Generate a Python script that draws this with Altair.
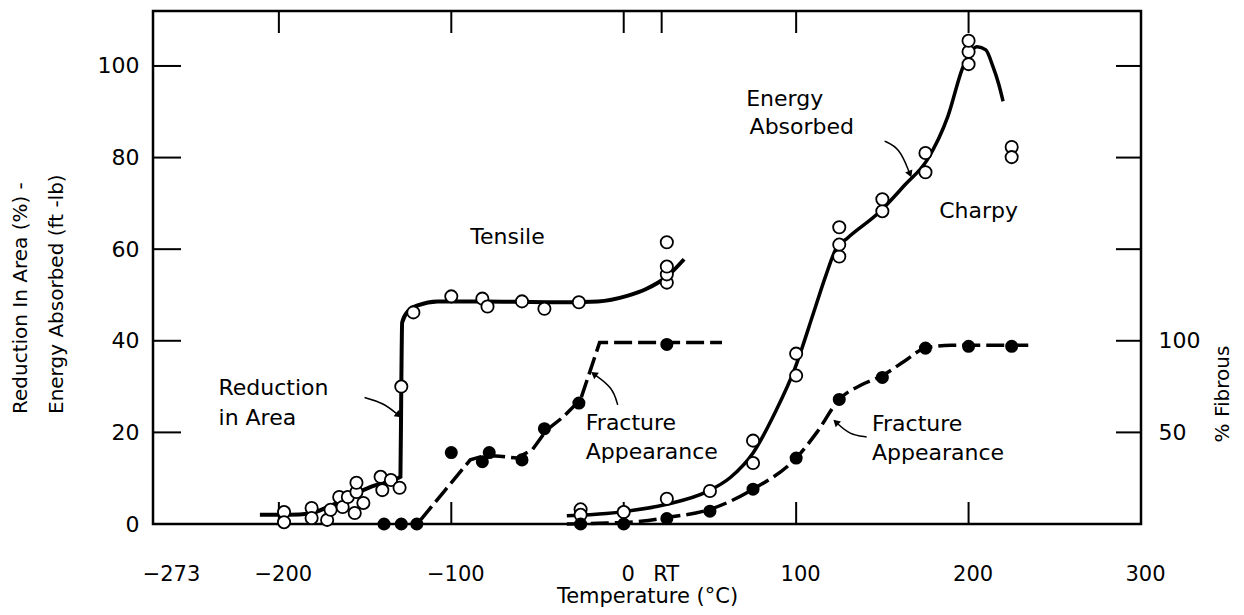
import altair as alt
import pandas as pd

FONT = "DejaVu Sans"

# ---------------- data ----------------
# Tensile test: reduction in area (%) -- open circles
ra_temp = [-197, -197, -181, -181, -172, -170, -165, -163, -160, -156, -155, -155, -151,
           -141, -140, -135, -130, -129, -122, -100, -82, -79, -59, -46, -26, 25, 25, 25, 25]
ra_val = [2.6, 0.4, 3.5, 1.3, 0.9, 3.1, 5.9, 3.7, 5.9, 2.4, 7.0, 9.0, 4.6,
          10.3, 7.4, 9.6, 7.9, 30.0, 46.2, 49.7, 49.2, 47.5, 48.6, 47.0, 48.4, 52.7, 54.5, 56.2, 61.5]
# Tensile reduction-in-area curve
ra_curve_t = [-211, -194, -182, -170, -158, -146, -135, -129.5, -129, -128.5,
              -125, -119, -108, -80, -40, -15, 2, 13, 25, 35]
ra_curve_v = [2.0, 2.0, 2.3, 4.0, 6.2, 8.2, 9.6, 10.3, 30, 44,
              46.5, 47.8, 48.6, 48.6, 48.4, 48.6, 49.8, 51.3, 54.0, 57.8]

# Tensile fracture appearance (% fibrous) -- filled circles
tf_temp = [-139, -129, -120, -100, -82, -78, -59, -46, -26, 25]
tf_fib = [0, 0, 0, 39, 34, 39, 35, 52, 66, 98]
tf_curve_t = [-118, -104, -89, -80, -72, -62, -53, -45, -35, -25, -14, 25, 57]
tf_curve_f = [2, 18, 35, 37.5, 37, 36, 40.5, 51, 58.5, 68, 99, 99, 99]

# Charpy energy absorbed (ft-lb) -- open circles
ce_temp = [-25, -25, 0, 25, 50, 75, 75, 100, 100, 125, 125, 125, 150, 150,
           175, 175, 200, 200, 200, 225, 225]
ce_val = [3.2, 2.0, 2.6, 5.5, 7.2, 13.3, 18.2, 32.4, 37.2, 58.4, 61.0, 64.8, 68.3, 70.9,
          76.8, 81.0, 100.4, 103.1, 105.5, 82.3, 80.1]
ce_curve_t = [-33, -10, 0, 25, 48, 62, 75, 88, 99, 110, 117, 123, 130, 148, 163, 176,
              188, 197, 205, 210, 214, 217.5, 220]
ce_curve_v = [1.8, 2.3, 2.7, 4.3, 7.0, 10.2, 15.5, 24.5, 33.7, 46.0, 54.0, 60.0, 62.5, 68.0,
              74.0, 79.5, 89.0, 100.0, 104.2, 103.5, 100.0, 96.0, 92.3]

# Charpy fracture appearance (% fibrous) -- filled circles
cf_temp = [-25, 0, 25, 50, 75, 100, 125, 150, 175, 200, 225]
cf_fib = [0, 0, 3, 7, 19, 36, 68, 80, 96, 97, 97]
cf_curve_t = [-33, -10, 10, 25, 50, 75, 100, 112, 125, 138, 150, 163, 175, 190, 236]
cf_curve_f = [0, 0.5, 1.5, 3.5, 8, 19, 36, 50, 68, 76, 81, 89, 96, 97.5, 97.5]

# Axis ticks / labels
RT = 22
x_label_vals = [-273, -200, -100, 0, RT, 100, 200, 300]
x_bottom_ticks = [-200, -100, 0, 100, 200]
x_top_ticks = [-200, -100, 0, RT, 100, 200]
y_label_vals = [0, 20, 40, 60, 80, 100]
y_tick_vals = [20, 40, 60, 80, 100]
fib_label_vals = [50, 100]

# Annotations
ann_text = ["Tensile", "Reduction", "in Area", "Fracture", "Appearance",
            "Energy", "Absorbed", "Charpy", "Fracture", "Appearance"]
ann_t = [-89, -235, -235, -22, -22, 71, 73, 183, 144, 144]
ann_v = [62.6, 29.8, 23.2, 22.1, 15.8, 92.8, 86.7, 68.3, 21.9, 15.5]

arrow_id = ["ra", "ra", "ra", "en", "en", "en", "tf", "tf", "tf", "cf", "cf", "cf"]
arrow_ord = [0, 1, 2, 0, 1, 2, 0, 1, 2, 0, 1, 2]
arrow_t = [-150.3, -139.7, -131, 151.3, 160, 165.8, -3.5, -6.4, -16.8, 140.9, 131, 123.5]
arrow_v = [27.6, 26.5, 23.9, 83.6, 82.1, 76.6, 26.0, 29.8, 32.6, 19.0, 19.5, 22.1]
head_t = [-131, 165.8, -16.8, 123.5]
head_v = [23.9, 76.6, 32.6, 22.1]
head_angle = [129, 158, 306, 313]

# ---------------- chart ----------------
W, H = 988, 513

xscale = alt.Scale(domain=[-273, 300], nice=False, zero=False)
yscale = alt.Scale(domain=[0, 112], nice=False, zero=False)
fscale = alt.Scale(domain=[0, 280], nice=False, zero=False)

x_axis = alt.Axis(values=x_label_vals,
                  labelExpr=f"datum.value == {RT} ? 'RT' : datum.label",
                  title="Temperature (°C)", ticks=False, tickSize=0, domain=False,
                  grid=False, labelFlush=False, labelOverlap=False, labelPadding=39,
                  labelFontSize=21, titleFontSize=21, titleFontWeight="normal",
                  titlePadding=1,
                  labelOffset={"condition": {"test": "datum.value == -273", "value": 18},
                               "value": 4})
y_axis = alt.Axis(values=y_label_vals, title=None, ticks=False, tickSize=0, domain=False,
                  grid=False, labelPadding=14, labelFontSize=22, labelFlush=False)
f_axis = alt.Axis(values=fib_label_vals, orient="right", title=None, ticks=False,
                  tickSize=0, domain=False, grid=False, labelPadding=17,
                  labelFontSize=22, labelFlush=False)


def X(f="t"):
    return alt.X(f"{f}:Q", scale=xscale, axis=x_axis)


def YL(f="v"):
    return alt.Y(f"{f}:Q", scale=yscale, axis=y_axis)


def YF(f="f"):
    return alt.Y(f"{f}:Q", scale=fscale, axis=f_axis)


ytick_df = pd.DataFrame({"v": y_tick_vals})
left_ticks = alt.Chart(ytick_df).mark_rule(color="black", strokeWidth=2).encode(
    y=YL(), x=alt.value(0), x2=alt.value(28))
right_ticks = alt.Chart(ytick_df).mark_rule(color="black", strokeWidth=2).encode(
    y=YL(), x=alt.value(W), x2=alt.value(W - 25))
bottom_ticks = alt.Chart(pd.DataFrame({"t": x_bottom_ticks})).mark_rule(
    color="black", strokeWidth=2).encode(x=X(), y=alt.value(H), y2=alt.value(H - 22))
top_ticks = alt.Chart(pd.DataFrame({"t": x_top_ticks})).mark_rule(
    color="black", strokeWidth=2).encode(x=X(), y=alt.value(0), y2=alt.value(22))

ra_line = alt.Chart(pd.DataFrame({"t": ra_curve_t, "v": ra_curve_v})).mark_line(
    color="black", strokeWidth=4, interpolate="monotone").encode(x=X(), y=YL())
ce_line = alt.Chart(pd.DataFrame({"t": ce_curve_t, "v": ce_curve_v})).mark_line(
    color="black", strokeWidth=3.5, interpolate="monotone").encode(x=X(), y=YL())

open_style = dict(size=150, fill="white", stroke="black", strokeWidth=1.8, opacity=1)
ra_pts = alt.Chart(pd.DataFrame({"t": ra_temp, "v": ra_val})).mark_circle(
    **open_style).encode(x=X(), y=YL())
ce_pts = alt.Chart(pd.DataFrame({"t": ce_temp, "v": ce_val})).mark_circle(
    **open_style).encode(x=X(), y=YL())

ann = alt.Chart(pd.DataFrame({"t": ann_t, "v": ann_v, "label": ann_text})).mark_text(
    align="left", baseline="middle", fontSize=22, font=FONT, color="black").encode(
    x=X(), y=YL(), text="label:N")

arrows = alt.Chart(pd.DataFrame({"id": arrow_id, "o": arrow_ord, "t": arrow_t,
                                 "v": arrow_v})).mark_line(
    color="black", strokeWidth=1.5, interpolate="basis").encode(
    x=X(), y=YL(), detail="id:N", order="o:Q")
heads = alt.Chart(pd.DataFrame({"t": head_t, "v": head_v, "a": head_angle})).mark_point(
    shape="triangle", filled=True, color="black", size=60, opacity=1).encode(
    x=X(), y=YL(), angle=alt.Angle("a:Q", scale=None))

one = pd.DataFrame({"k": [0]})
title1 = alt.Chart(one).mark_text(
    text="Reduction In Area (%) -", angle=270, align="left", baseline="middle",
    fontSize=20, font=FONT, color="black").encode(x=alt.value(-132), y=alt.value(403))
title2 = alt.Chart(one).mark_text(
    text="Energy Absorbed (ft -lb)", angle=270, align="left", baseline="middle",
    fontSize=20, font=FONT, color="black").encode(x=alt.value(-96), y=alt.value(403))
title3 = alt.Chart(one).mark_text(
    text="% Fibrous", angle=270, align="center", baseline="middle",
    fontSize=20, font=FONT, color="black").encode(x=alt.value(W + 82), y=alt.value(383))

left = alt.layer(left_ticks, right_ticks, bottom_ticks, top_ticks, ra_line, ce_line,
                 arrows, heads, ra_pts, ce_pts, ann, title1, title2, title3)

dash = [18, 6]
tf_line = alt.Chart(pd.DataFrame({"t": tf_curve_t, "f": tf_curve_f})).mark_line(
    color="black", strokeWidth=3.5, strokeDash=dash).encode(x=X(), y=YF())
cf_line = alt.Chart(pd.DataFrame({"t": cf_curve_t, "f": cf_curve_f})).mark_line(
    color="black", strokeWidth=3.5, strokeDash=dash, interpolate="monotone").encode(
    x=X(), y=YF())
fill_style = dict(size=170, color="black", opacity=1)
tf_pts = alt.Chart(pd.DataFrame({"t": tf_temp, "f": tf_fib})).mark_circle(
    **fill_style).encode(x=X(), y=YF())
cf_pts = alt.Chart(pd.DataFrame({"t": cf_temp, "f": cf_fib})).mark_circle(
    **fill_style).encode(x=X(), y=YF())

right = alt.layer(tf_line, cf_line, tf_pts, cf_pts)

chart = alt.layer(left, right).resolve_scale(y="independent").properties(
    width=W, height=H,
    padding={"left": 145, "top": 3, "right": 95, "bottom": 83},
    autosize=alt.AutoSizeParams(type="none"),
    background="white",
).configure_view(stroke="black", strokeWidth=2.5).configure_axis(
    labelFont=FONT, titleFont=FONT, labelColor="black", titleColor="black")

chart.save("out.html", embed_options={"renderer": "svg", "actions": False})
